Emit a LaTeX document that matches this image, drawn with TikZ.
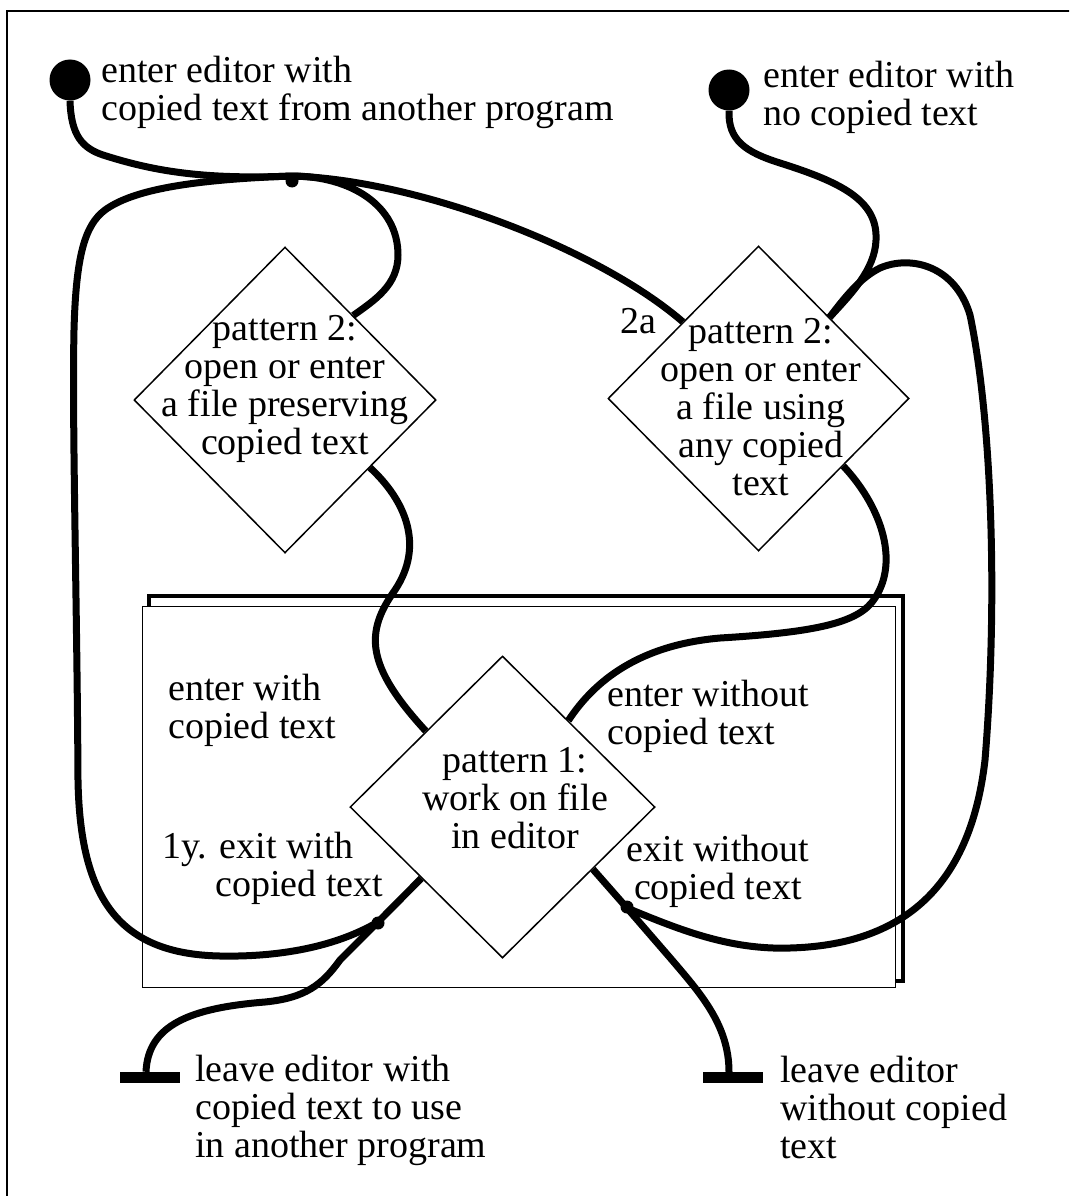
\documentclass[tikz,border=0pt]{standalone}
\usepackage{fontspec}
\setmainfont{Liberation Serif}
\usetikzlibrary{shapes.geometric,calc}
\begin{document}
\begin{tikzpicture}[x=1pt,y=-1pt,
  font=\fontsize{38}{38}\selectfont,
  flow/.style={line width=7pt, line join=round},
  dia/.style={diamond, draw, line width=1.5pt, inner sep=0pt, fill=white},
  txt/.style={inner sep=0pt, align=center},
  ltxt/.style={inner sep=0pt, align=left, anchor=west},
  startdot/.style={circle, fill, inner sep=0pt, minimum size=41pt},
  endbar/.style={rectangle, fill, inner sep=0pt, minimum width=60pt, minimum height=11pt},
  blob/.style={circle, fill, inner sep=0pt, minimum size=13pt}]
\useasboundingbox (0,0) rectangle (1069,1196);
\clip (0,0) rectangle (1069,1196);
% outer frame
\draw[line width=1.5pt] (7,1210) -- (7,11) -- (1080,11);
% double frame around pattern 1
\draw[line width=4pt] (149,596) rectangle (903,981);
\draw[line width=1pt, fill=white] (142,606) rectangle (895,987);
% nodes
\node[startdot] (dot1) at (70,80) {};
\node[startdot] (dot2) at (729,90) {};
\node[dia, minimum width=302pt, minimum height=306pt] (A) at (285,400) {};
\node[dia, minimum width=301pt, minimum height=305pt] (B) at (758.5,398.5) {};
\node[dia, minimum width=305pt, minimum height=302pt] (P) at (502.5,807) {};
\node[endbar] (bar1) at (150,1077.5) {};
\node[endbar] (bar2) at (733,1077.5) {};
\coordinate (J1) at (292,176);
\coordinate (J2) at (378,922);
\coordinate (J3) at (627,908);
\coordinate (Ain) at ($(A.north)!0.45!(A.east)$);
\coordinate (Aout) at ($(A.east)!0.44!(A.south)$);
\coordinate (Bin) at ($(B.north)!0.5!(B.west)$);
\coordinate (Bin2) at ($(B.north)!0.47!(B.east)$);
\coordinate (Bout) at ($(B.east)!0.44!(B.south)$);
\coordinate (Pin1) at ($(P.north)!0.5!(P.west)$);
\coordinate (Pin2) at ($(P.north)!0.43!(P.east)$);
\coordinate (Pout1) at ($(P.west)!0.47!(P.south)$);
\coordinate (Pout2) at ($(P.east)!0.41!(P.south)$);
% connectors
\draw[flow] (dot1.south) .. controls (71,135) and (82,148) .. (103,155)
  .. controls (150,170) and (200,180) .. (J1);
\draw[flow] (J2) .. controls (330,950) and (270,957) .. (220,956)
  .. controls (120,954) and (80,900) .. (78,780)
  .. controls (77,600) and (72,420) .. (74,330)
  .. controls (76,255) and (85,225) .. (105,210)
  .. controls (130,192) and (180,180) .. (J1);
\draw[flow] (J1) .. controls (420,180) and (600,250) .. (Bin);
\draw[flow] (J1) .. controls (350,176) and (398,205) .. (398,255)
  .. controls (398,285) and (375,300) .. (Ain);
\draw[flow] (dot2.south) .. controls (728,140) and (745,152) .. (780,163)
  .. controls (840,182) and (878,200) .. (876,240)
  .. controls (875,270) and (850,295) .. (Bin2);
\draw[flow] (J3) .. controls (680,930) and (730,950) .. (790,948)
  .. controls (900,945) and (970,890) .. (985,760)
  .. controls (998,600) and (992,420) .. (970,315)
  .. controls (955,265) and (910,255) .. (880,268)
  .. controls (860,278) and (845,297) .. (Bin2);
\draw[flow] (Aout) .. controls (405,500) and (425,545) .. (395,590)
  .. controls (365,632) and (365,665) .. (Pin1);
\draw[flow] (Bout) .. controls (880,505) and (900,560) .. (875,598)
  .. controls (860,622) and (820,632) .. (720,638)
  .. controls (640,645) and (595,680) .. (Pin2);
\draw[flow] (Pout1) -- (J2) -- (340,960)
  .. controls (322,985) and (305,998) .. (265,1002)
  .. controls (190,1008) and (148,1025) .. ([xshift=-4pt]bar1.north);
\draw[flow] (Pout2) -- (J3) -- (672,960)
  .. controls (700,993) and (729,1025) .. ([xshift=-4pt]bar2.north);
% junction blobs
\node[blob] (b1) at (292,181) {};
\node[blob] (b2) at (378,923) {};
\node[blob] (b3) at (627,907) {};
% texts
\node[ltxt] (l1) at (101,92) {enter editor with\\copied text from another program};
\node[ltxt] (l2) at (763,97) {enter editor with\\no copied text};
\node[txt] (Atext) at (285,389) {pattern 2:\\open or enter\\a file preserving\\copied text};
\node[txt] (Btext) at (761,407) {pattern 2:\\open or enter\\a file using\\any copied\\text};
\node[txt] (l2a) at (638,321) {2a};
\node[ltxt] (l3) at (168,710) {enter with\\copied text};
\node[ltxt] (l4) at (607,716) {enter without\\copied text};
\node[txt] (Ptext) at (515,798) {pattern 1:\\work on file\\in editor};
\node[ltxt] (l5) at (162,868) {1y. exit with\\\hspace*{53pt}copied text};
\node[txt] (l6) at (718,871) {exit without\\copied text};
\node[ltxt] (l7) at (195,1110) {leave editor with\\copied text to use\\in another program};
\node[ltxt] (l8) at (780,1107) {leave editor\\without copied\\text};
\end{tikzpicture}
\end{document}
